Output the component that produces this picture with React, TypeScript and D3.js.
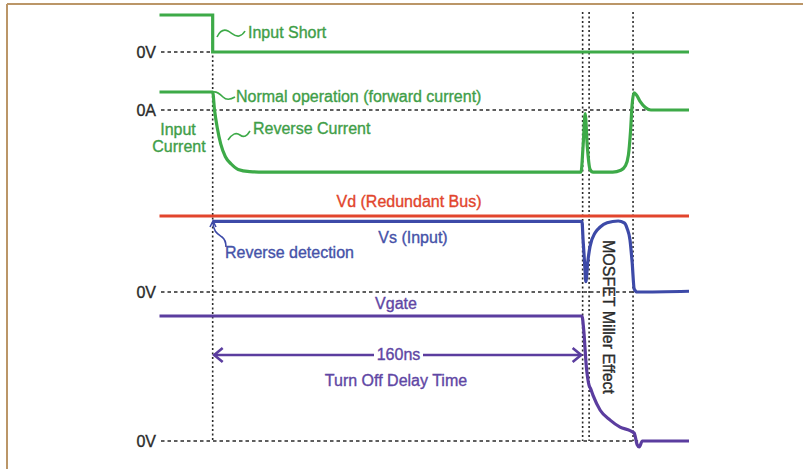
import React from "react";
import * as d3 from "d3";

// time axis in ns (0 = input short event)
const timeMarkers = [0, 160, 162.8, 181.8];

// Input voltage (normalized, 1 = high, 0 = 0V)
const inVoltT = [-23, 0, 0, 206];
const inVoltV = [1, 1, 0, 0];

// Input current (normalized, 1 = forward, 0 = 0A, negative = reverse)
const curT = [-23, 0, 0.8, 2, 3.5, 5.5, 8, 11, 16, 22, 159.3, 160.2, 161.1, 162.0, 163.2, 164.5, 173, 176.5, 178.5, 179.8, 180.7, 181.4, 182.2, 183.2, 185, 187, 189.5, 206];
const curV = [1, 1, 0, -1, -1.9, -2.6, -3.0, -3.3, -3.42, -3.45, -3.45, -2.0, -0.2, -2.0, -3.3, -3.45, -3.45, -3.35, -3.1, -2.5, -1.2, 0.3, 0.95, 0.85, 0.45, 0.15, 0, 0];

// Vd (redundant bus) normalized
const vdT = [-23, 206];
const vdV = [1, 1];

// Vs (input) normalized
const vsT = [0, 159.7, 160.2, 160.9, 161.4, 162.2, 163.2, 165.4, 167.6, 170.6, 175.4, 178, 179.2, 180.5, 181.4, 182.3, 183.6, 206];
const vsV = [0.93, 0.93, 0.68, 0.355, 0.135, 0.39, 0.6, 0.78, 0.855, 0.91, 0.934, 0.91, 0.84, 0.68, 0.395, 0.04, 0, 0.01];

// Vgate normalized
const gateT = [-23, 159.7, 160.5, 161.6, 162.8, 163.4, 164.5, 167.6, 171.9, 176.2, 180.5, 182.3, 183.6, 184.5, 185.8, 206];
const gateV = [1, 1, 0.88, 0.595, 0.444, 0.42, 0.365, 0.246, 0.167, 0.111, 0.083, 0.063, -0.03, -0.048, 0, 0];

// reference level labels
const levelLabels = ["0V", "0A", "0V", "0V"];
const delayLabel = "160ns";

const FONT = "'Liberation Sans', Arial, Helvetica, sans-serif";
const GREEN = "#3daa48";
const GREEN_T = "#3f9e48";
const RED = "#e2452d";
const BLUE = "#3d4aa8";
const BLUE_T = "#4552a8";
const PURPLE = "#5b3d9f";
const PURPLE_T = "#6046a4";
const DARK = "#2a2a2a";
const FS = 16;

export default function App() {
  const x = d3.scaleLinear().domain([-23, 206]).range([159.5, 689]);
  const yIn = d3.scaleLinear().domain([0, 1]).range([52, 15]);
  const yCur = d3.scaleLinear().domain([0, 1]).range([110, 92]);
  const yVs = d3.scaleLinear().domain([0, 1]).range([292, 216]);
  const yGate = d3.scaleLinear().domain([0, 1]).range([441, 316]);

  const mk = (ts: number[], vs: number[], y: d3.ScaleLinear<number, number>, curve: d3.CurveFactory) =>
    d3.line<number>().x((_, i) => x(ts[i])).y((v) => y(v)).curve(curve)(vs) || "";

  const inPath = mk(inVoltT, inVoltV, yIn, d3.curveLinear);
  const curPath = mk(curT, curV, yCur, d3.curveMonotoneX);
  const vdPath = mk(vdT, vdV, yVs, d3.curveLinear);
  const vsPath = mk(vsT, vsV, yVs, d3.curveMonotoneX);
  const gatePath = mk(gateT, gateV, yGate, d3.curveMonotoneX);

  const refLines = [
    { y: yIn(0), x2: x(0), label: levelLabels[0] },
    { y: yCur(0), x2: x(191), label: levelLabels[1] },
    { y: yVs(0), x2: x(182.5), label: levelLabels[2] },
    { y: yGate(0), x2: x(184), label: levelLabels[3] },
  ];

  const arrowY = 355;
  const x0 = x(timeMarkers[0]);
  const x1 = x(timeMarkers[1]);

  const T = (props: any) => (
    <text fontSize={FS} strokeWidth={0.35} stroke={props.fill} {...props} />
  );

  return (
    <svg width={803} height={469} style={{ position: "absolute", left: 0, top: 0, background: "#fff" }} fontFamily={FONT}>
      {/* frame */}
      <line x1={7} x2={803} y1={4} y2={4} stroke="#bb9668" strokeWidth={2} />
      <line x1={7} x2={7} y1={4} y2={469} stroke="#bb9668" strokeWidth={2} />

      {/* reference dashed lines + labels */}
      {refLines.map((r, i) => (
        <g key={i}>
          <line x1={161} x2={r.x2} y1={r.y} y2={r.y} stroke={DARK} strokeWidth={1.5} strokeDasharray="3.5,3" />
          <T x={156} y={r.y + 5.5} textAnchor="end" fill={DARK}>{r.label}</T>
        </g>
      ))}

      {/* vertical dotted time markers */}
      {timeMarkers.map((t, i) => (
        <line key={i} x1={x(t)} x2={x(t)} y1={i === 0 ? 15 : 12} y2={441} stroke={DARK} strokeWidth={1.6} strokeDasharray="2,2.5" />
      ))}

      {/* traces */}
      <path d={inPath} fill="none" stroke={GREEN} strokeWidth={3.2} />
      <path d={curPath} fill="none" stroke={GREEN} strokeWidth={3.2} />
      <path d={vdPath} fill="none" stroke={RED} strokeWidth={3.2} />
      <path d={vsPath} fill="none" stroke={BLUE} strokeWidth={3.2} />
      <path d={gatePath} fill="none" stroke={PURPLE} strokeWidth={3.2} />

      {/* annotations: input */}
      <path d="M217,37 C220,31 224,29 228,31 C232,33 235,37 239,36 C242,35 244,33 245,31" fill="none" stroke={GREEN} strokeWidth={1.6} />
      <T x={248} y={38} fill={GREEN_T}>Input Short</T>

      <path d="M213,92 C217,91 220,94 223,97 C226,100 230,100 235,97" fill="none" stroke={GREEN} strokeWidth={1.6} />
      <T x={236} y={102} fill={GREEN_T}>Normal operation (forward current)</T>

      <path d="M228,140 C232,134 236,132 240,135 C244,138 247,136 250,131" fill="none" stroke={GREEN} strokeWidth={1.6} />
      <T x={253} y={134} fill={GREEN_T}>Reverse Current</T>

      <T x={178} y={135} fill={GREEN_T} textAnchor="middle">Input</T>
      <T x={179} y={152} fill={GREEN_T} textAnchor="middle">Current</T>

      {/* Vd / Vs */}
      <T x={409} y={207} fill={RED} textAnchor="middle">Vd (Redundant Bus)</T>
      <T x={413} y={243} fill={BLUE_T} textAnchor="middle">Vs (Input)</T>
      <path d="M213,222 C213,232 218,234 222,237 C226,240 226,244 226,247" fill="none" stroke={BLUE} strokeWidth={1.6} />
      <path d="M210,227 L213,221 L216,227" fill="none" stroke={BLUE} strokeWidth={1.6} />
      <T x={225} y={258} fill={BLUE_T}>Reverse detection</T>

      {/* Vgate */}
      <T x={396} y={309} fill={PURPLE_T} textAnchor="middle">Vgate</T>
      <line x1={x0 + 1} x2={374} y1={arrowY} y2={arrowY} stroke={PURPLE} strokeWidth={2.6} />
      <line x1={423} x2={x1 - 1} y1={arrowY} y2={arrowY} stroke={PURPLE} strokeWidth={2.6} />
      <path d={`M${x0 + 10},${arrowY - 7} L${x0 + 1.5},${arrowY} L${x0 + 10},${arrowY + 7}`} fill="none" stroke={PURPLE} strokeWidth={2.6} />
      <path d={`M${x1 - 10},${arrowY - 7} L${x1 - 1.5},${arrowY} L${x1 - 10},${arrowY + 7}`} fill="none" stroke={PURPLE} strokeWidth={2.6} />
      <T x={398.5} y={360} fill={PURPLE_T} textAnchor="middle">{delayLabel}</T>
      <T x={396} y={386} fill={PURPLE_T} textAnchor="middle">Turn Off Delay Time</T>

      {/* Miller effect */}
      <T transform="translate(603,317) rotate(90)" fill={DARK} textAnchor="middle">MOSFET Miller Effect</T>
    </svg>
  );
}
